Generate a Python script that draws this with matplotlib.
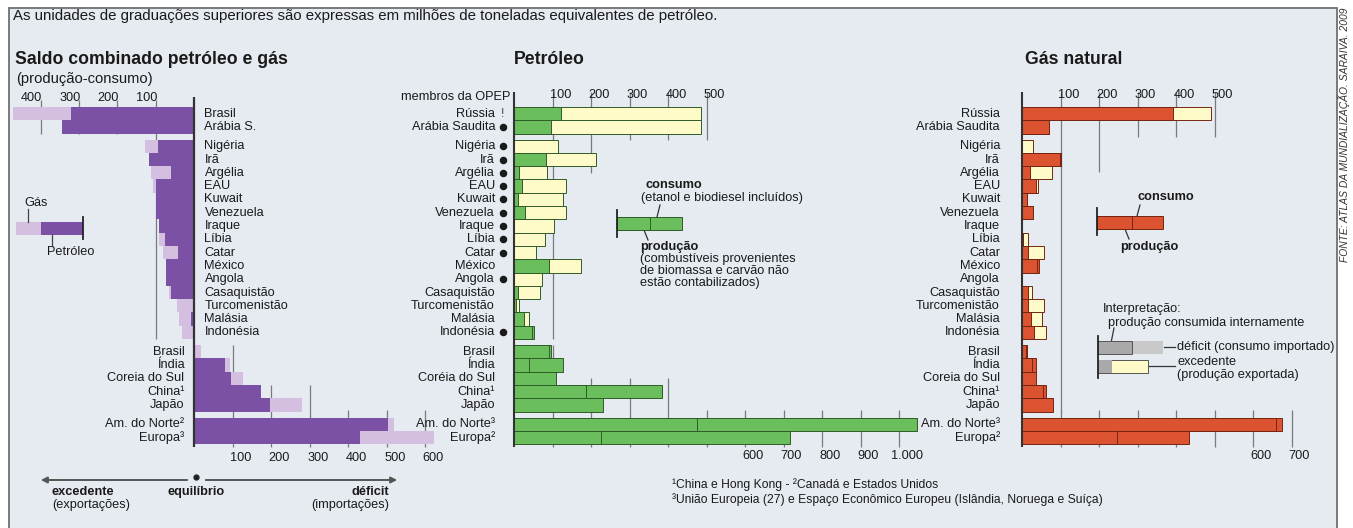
import matplotlib
matplotlib.use("Agg")
import matplotlib.pyplot as plt
from matplotlib.patches import Rectangle
import numpy as np

plt.rcParams['font.family'] = ['Liberation Sans', 'DejaVu Sans']

# ---------------- data ----------------
left_names = ["Brasil", "Arábia S.", "Nigéria", "Irã", "Argélia", "EAU", "Kuwait", "Venezuela",
              "Iraque", "Líbia", "Catar", "México", "Angola", "Casaquistão", "Turcomenistão",
              "Malásia", "Indonésia", "Brasil", "Índia", "Coreia do Sul", "China¹", "Japão",
              "Am. do Norte²", "Europa³"]
# saldo (consumo - produção): negativo = excedente, positivo = déficit
left_oil = [-320, -345, -96, -119, -62, -100, -99, -99, -93, -76, -44, -73, -73, -60, 0,
            -8, -3, 2, 80, 96, 173, 197, 502, 430]
left_gas = [-152, 0, -32, 0, -52, -8, 0, 0, 0, -17, -39, 0, 0, -5, -46,
            -31, -29, 16, 11, 31, 0, 81, 15, 191]

oil_names = ["Rússia", "Arábia Saudita", "Nigéria", "Irã", "Argélia", "EAU", "Kuwait",
             "Venezuela", "Iraque", "Líbia", "Catar", "México", "Angola", "Casaquistão",
             "Turcomenistão", "Malásia", "Indonésia", "Brasil", "Índia", "Coréia do Sul",
             "China¹", "Japão", "Am. do Norte³", "Europa²"]
opep_marks = ["!", "o", "o", "o", "o", "o", "o", "o", "o", "o", "o", "", "o", "", "", "", "o",
              "", "", "", "", "", "", ""]
oil_prod = [485, 485, 113, 213, 87, 136, 128, 136, 105, 80, 56, 174, 74, 67, 13, 38, 46,
            91, 39, 0, 187, 0, 475, 226]
oil_cons = [123, 97, 0, 82, 13, 21, 10, 28, 0, 0, 0, 90, 0, 10, 5, 26, 51,
            96, 127, 109, 384, 231, 1047, 717]

gas_names = ["Rússia", "Arábia Saudita", "Nigéria", "Irã", "Argélia", "EAU", "Kuwait",
             "Venezuela", "Iraque", "Líbia", "Catar", "México", "Angola", "Casaquistão",
             "Turcomenistão", "Malásia", "Indonésia", "Brasil", "Índia", "Coreia do Sul",
             "China¹", "Japão", "Am. do Norte³", "Europa²"]
gas_prod = [491, 70, 29, 99, 78, 42, 13, 29, 0, 16, 57, 40, 0, 26, 57, 52, 62,
            10, 26, 0, 55, 0, 660, 247]
gas_cons = [392, 70, 0, 101, 21, 37, 13, 29, 0, 2, 16, 44, 0, 16, 16, 23, 31,
            13, 36, 36, 62, 81, 675, 434]

left_top_ticks = [100, 200, 300, 400]
left_bottom_ticks = [100, 200, 300, 400, 500, 600]
oil_top_ticks = [100, 200, 300, 400, 500]
oil_bottom_ticks = [100, 200, 300, 400, 500, 600, 700, 800, 900, 1000]
oil_bottom_labels = {600: "600", 700: "700", 800: "800", 900: "900", 1000: "1.000"}
gas_top_ticks = [100, 200, 300, 400, 500]
gas_bottom_ticks = [100, 200, 300, 400, 500, 600, 700]
gas_bottom_labels = {600: "600", 700: "700"}

group_sizes = [2, 15, 5, 2]

# ---------------- style / layout ----------------
W, H = 1353, 528
BG = '#e5ebf1'
PURPLE = '#7b51a6'
LILAC = '#d4bfe0'
GREEN = '#6bbe5c'
GREEN_E = '#2f5c29'
RED = '#db5330'
RED_E = '#742611'
YELLOW = '#fffbc9'
TXT = '#1a1a1a'
GRID = '#7a7a7a'
FS = 9.2

ROW, GAP, Y0 = 13.3, 0.45, 107.0
PY0, PY1 = 85.0, 475.0

def px2row(py):
    return (py - Y0) / ROW

ypos = []
gstart, gend = [], []
off = 0.0
for n in group_sizes:
    gstart.append(off)
    for k in range(n):
        ypos.append(off + k + 0.5)
    off += n
    gend.append(off)
    off += GAP
ypos = np.array(ypos)

fig = plt.figure(figsize=(W / 100, H / 100), dpi=100)
ov = fig.add_axes([0, 0, 1, 1])
ov.set_xlim(0, W)
ov.set_ylim(H, 0)
ov.axis('off')
ov.set_zorder(0)

ov.add_patch(Rectangle((9, 8), 1328, 530, facecolor=BG, edgecolor='#707070', lw=1.3, zorder=0))


def add_panel(px0, px1, zero, scale):
    ax = fig.add_axes([px0 / W, 1 - PY1 / H, (px1 - px0) / W, (PY1 - PY0) / H])
    ax.set_xlim((px0 - zero) / scale, (px1 - zero) / scale)
    ax.set_ylim(px2row(PY1), px2row(PY0))
    ax.axis('off')
    ax.set_zorder(2)
    ax.patch.set_alpha(0)
    return ax


SC = 0.385  # pixels per unit

# ---------------- left panel ----------------
L = add_panel(10, 470, 194.5, SC)
u = 1 / SC
for t in left_top_ticks:
    yend = gend[1] if t == 100 else gend[0]
    L.vlines(-t, px2row(100), yend, color=GRID, lw=0.9, zorder=1)
    L.text(-t - 9 * u, px2row(98), str(t), ha='center', va='center', fontsize=FS, color=TXT)
for t in left_bottom_ticks:
    if t == 100:
        ys = gstart[2]
    elif t <= 300:
        ys = ypos[20] - 0.5
    else:
        ys = px2row(410)
    L.vlines(t, ys, px2row(447), color=GRID, lw=0.9, zorder=1)
    L.text(t + 8 * u, px2row(458), str(t), ha='center', va='center', fontsize=FS, color=TXT)
L.barh(ypos, left_oil, height=1.0, color=PURPLE, lw=0, zorder=2)
L.barh(ypos, left_gas, left=left_oil, height=1.0, color=LILAC, lw=0, zorder=2)
L.vlines(0, px2row(97), px2row(447), color='#333333', lw=1.6, zorder=3)
for i, name in enumerate(left_names):
    if i < 17:
        L.text(10 * u, ypos[i], name, ha='left', va='center', fontsize=FS, color=TXT)
    else:
        L.text(-10 * u, ypos[i], name, ha='right', va='center', fontsize=FS, color=TXT)


# ---------------- producer/consumer panels ----------------
def pc_panel(ax, prod, cons, fill, edge, top_ticks, bottom_ticks, bottom_labels, top_ext, bot_ext):
    prod = np.array(prod, float)
    cons = np.array(cons, float)
    for t in top_ticks:
        ax.vlines(t, px2row(92), top_ext[t], color=GRID, lw=0.9, zorder=1)
        ax.text(t + 8 * u, px2row(95), str(t), ha='center', va='center', fontsize=FS, color=TXT)
    for t in bottom_ticks:
        ax.vlines(t, bot_ext[t], px2row(447), color=GRID, lw=0.9, zorder=1)
        if t in bottom_labels:
            ax.text(t + 8 * u, px2row(456), bottom_labels[t], ha='center', va='center',
                    fontsize=FS, color=TXT)
    big = np.maximum(prod, cons)
    small = np.minimum(prod, cons)
    cols = [YELLOW if p > c else fill for p, c in zip(prod, cons)]
    m = big > 0
    ax.barh(ypos[m], big[m], height=1.0, color=np.array(cols)[m], edgecolor=edge, lw=0.7, zorder=2)
    m2 = small > 0
    ax.barh(ypos[m2], small[m2], height=1.0, color=fill, edgecolor=edge, lw=0.7, zorder=3)
    ax.vlines(0, px2row(92), px2row(447), color='#333333', lw=1.5, zorder=4)


C = add_panel(380, 940, 514, SC)
oil_top_ext = {100: gend[1], 200: px2row(173), 300: gend[0] + GAP, 400: gend[0] + GAP, 500: gend[0] + GAP}
oil_bot_ext = {t: (gstart[2] if t == 100 else (px2row(378) if t <= 400 else px2row(410)))
               for t in oil_bottom_ticks}
pc_panel(C, oil_prod, oil_cons, GREEN, GREEN_E, oil_top_ticks, oil_bottom_ticks,
         oil_bottom_labels, oil_top_ext, oil_bot_ext)
for i, name in enumerate(oil_names):
    C.text(-19 * u, ypos[i], name, ha='right', va='center', fontsize=FS, color=TXT)
    if opep_marks[i] == "o":
        C.plot(-11 * u, ypos[i], 'o', ms=4.4, color='#1a1a1a', zorder=5)
    elif opep_marks[i] == "!":
        C.text(-11 * u, ypos[i], "!", ha='center', va='center', fontsize=FS, color='#555555')
C.text(-4 * u, px2row(97), "membros da OPEP", ha='right', va='center', fontsize=FS, color=TXT)

G = add_panel(890, 1330, 1022, SC)
gas_top_ext = {100: gend[2], 200: px2row(172), 300: gend[0] + GAP - 0.2, 400: gend[0] + GAP - 0.2,
               500: gend[0] + GAP - 0.2}
gas_bot_ext = {t: px2row(410) for t in gas_bottom_ticks}
pc_panel(G, gas_prod, gas_cons, RED, RED_E, gas_top_ticks, gas_bottom_ticks,
         gas_bottom_labels, gas_top_ext, gas_bot_ext)
for i, name in enumerate(gas_names):
    G.text(-22 * u, ypos[i], name, ha='right', va='center', fontsize=FS, color=TXT)

# ---------------- titles & notes ----------------
ov.text(13, 16, "As unidades de graduações superiores são expressas em milhões de toneladas "
        "equivalentes de petróleo.", ha='left', va='center', fontsize=10.8, color=TXT)
ov.text(15, 60, "Saldo combinado petróleo e gás", ha='left', va='center', fontsize=12.7,
        fontweight='bold', color=TXT)
ov.text(16, 79, "(produção-consumo)", ha='left', va='center', fontsize=10.6, color=TXT)
ov.text(514, 60, "Petróleo", ha='left', va='center', fontsize=12.7, fontweight='bold', color=TXT)
ov.text(1025, 60, "Gás natural", ha='left', va='center', fontsize=12.7, fontweight='bold', color=TXT)
ov.text(1344, 135, "FONTE: ATLAS DA MUNDIALIZAÇÃO. SARAIVA. 2009", rotation=90, ha='center',
        va='center', fontsize=7.4, color='#333333', style='italic')
ov.text(672, 485, "¹China e Hong Kong - ²Canadá e Estados Unidos", ha='left', va='center',
        fontsize=8.7, color=TXT)
ov.text(672, 500, "³União Europeia (27) e Espaço Econômico Europeu (Islândia, Noruega e Suíça)",
        ha='left', va='center', fontsize=8.7, color=TXT)

# ---------------- left legend ----------------
ov.add_patch(Rectangle((16, 222), 25, 13, facecolor=LILAC, lw=0, zorder=2))
ov.add_patch(Rectangle((41, 222), 42, 13, facecolor=PURPLE, lw=0, zorder=2))
ov.plot([83, 83], [217, 239], color='#222222', lw=1.3, zorder=3)
ov.plot([28, 28], [209, 222], color='#444444', lw=0.9)
ov.plot([52, 52], [235, 246], color='#444444', lw=0.9)
ov.text(24, 203, "Gás", ha='left', va='center', fontsize=FS, color=TXT)
ov.text(47, 252, "Petróleo", ha='left', va='center', fontsize=FS, color=TXT)

# ---------------- bottom arrows ----------------
ov.annotate("", xy=(38, 480), xytext=(190, 480),
            arrowprops=dict(arrowstyle='-|>', color='#555555', lw=1.4, mutation_scale=9))
ov.annotate("", xy=(400, 480), xytext=(203, 480),
            arrowprops=dict(arrowstyle='-|>', color='#555555', lw=1.4, mutation_scale=9))
ov.plot([196], [477], 'o', ms=3.5, color='#222222')
ov.text(52, 492, "excedente", ha='left', va='center', fontsize=FS, fontweight='bold', color=TXT)
ov.text(52, 505, "(exportações)", ha='left', va='center', fontsize=FS, color=TXT)
ov.text(196, 492, "equilíbrio", ha='center', va='center', fontsize=FS, fontweight='bold', color=TXT)
ov.text(389, 492, "déficit", ha='right', va='center', fontsize=FS, fontweight='bold', color=TXT)
ov.text(389, 505, "(importações)", ha='right', va='center', fontsize=FS, color=TXT)

# ---------------- petroleum legend ----------------
ov.add_patch(Rectangle((617, 217), 65, 13, facecolor=GREEN, edgecolor=GREEN_E, lw=0.7, zorder=2))
ov.add_patch(Rectangle((617, 217), 33, 13, facecolor=GREEN, edgecolor=GREEN_E, lw=0.7, zorder=3))
ov.plot([617, 617], [210, 237], color='#222222', lw=1.3, zorder=4)
ov.plot([657, 660], [217, 205], color='#333333', lw=0.9)
ov.plot([644, 648], [230, 240], color='#333333', lw=0.9)
ov.text(646, 185, "consumo", ha='left', va='center', fontsize=FS, fontweight='bold', color=TXT)
ov.text(641, 198, "(etanol e biodiesel incluídos)", ha='left', va='center', fontsize=FS, color=TXT)
ov.text(640, 247, "produção", ha='left', va='center', fontsize=FS, fontweight='bold', color=TXT)
ov.text(640, 259, "(combustíveis provenientes", ha='left', va='center', fontsize=FS, color=TXT)
ov.text(640, 271, "de biomassa e carvão não", ha='left', va='center', fontsize=FS, color=TXT)
ov.text(640, 283, "estão contabilizados)", ha='left', va='center', fontsize=FS, color=TXT)

# ---------------- gas legend ----------------
ov.add_patch(Rectangle((1097, 216), 66, 13, facecolor=RED, edgecolor=RED_E, lw=0.7, zorder=2))
ov.add_patch(Rectangle((1097, 216), 35, 13, facecolor=RED, edgecolor=RED_E, lw=0.7, zorder=3))
ov.plot([1097, 1097], [208, 235], color='#222222', lw=1.3, zorder=4)
ov.plot([1137, 1140], [216, 205], color='#333333', lw=0.9)
ov.plot([1125, 1129], [229, 239], color='#333333', lw=0.9)
ov.text(1137, 197, "consumo", ha='left', va='center', fontsize=FS, fontweight='bold', color=TXT)
ov.text(1120, 247, "produção", ha='left', va='center', fontsize=FS, fontweight='bold', color=TXT)

# ---------------- interpretation legend ----------------
ov.text(1103, 309, "Interpretação:", ha='left', va='center', fontsize=FS, color=TXT)
ov.text(1108, 323, "produção consumida internamente", ha='left', va='center', fontsize=FS, color=TXT)
ov.plot([1114, 1111], [328, 343], color='#333333', lw=0.9)
ov.add_patch(Rectangle((1098, 341), 65, 13, facecolor='#c9c9c9', lw=0, zorder=2))
ov.add_patch(Rectangle((1098, 341), 34, 13, facecolor='#a9a9a9', edgecolor='#555555', lw=0.7, zorder=3))
ov.add_patch(Rectangle((1098, 360), 50, 13, facecolor=YELLOW, edgecolor='#555555', lw=0.7, zorder=2))
ov.add_patch(Rectangle((1098, 360), 14, 13, facecolor='#a9a9a9', lw=0, zorder=3))
ov.plot([1098, 1098], [336, 378], color='#222222', lw=1.3, zorder=4)
ov.plot([1164, 1175], [347, 347], color='#333333', lw=0.9)
ov.plot([1149, 1175], [366, 366], color='#333333', lw=0.9)
ov.text(1177, 347, "déficit (consumo importado)", ha='left', va='center', fontsize=FS, color=TXT)
ov.text(1177, 362, "excedente", ha='left', va='center', fontsize=FS, color=TXT)
ov.text(1177, 375, "(produção exportada)", ha='left', va='center', fontsize=FS, color=TXT)

fig.savefig("out.png", dpi=100, facecolor='white')
